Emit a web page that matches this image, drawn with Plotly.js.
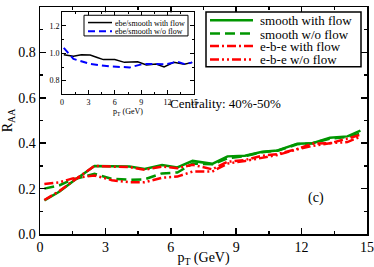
<!DOCTYPE html>
<html><head><meta charset="utf-8">
<script src="https://cdn.plot.ly/plotly-3.0.1.min.js"></script>
<style>html,body{margin:0;padding:0;background:#fff;}#g{width:374px;height:267px;}</style>
</head><body><div id="g"></div>
<script>
var pt = [0.2, 0.9, 1.5, 2.5, 3.3, 4.1, 4.8, 5.6, 6.3, 7.0, 7.9, 8.6, 9.4, 10.2, 10.9, 11.8, 12.5, 13.3, 14.1, 14.7];
var smoothFlow   = [0.148, 0.187, 0.231, 0.300, 0.298, 0.297, 0.286, 0.304, 0.293, 0.322, 0.309, 0.342, 0.345, 0.362, 0.368, 0.398, 0.400, 0.424, 0.430, 0.455];
var smoothNoFlow = [0.200, 0.215, 0.240, 0.265, 0.243, 0.239, 0.241, 0.267, 0.271, 0.310, 0.307, 0.333, 0.343, 0.360, 0.367, 0.395, 0.400, 0.420, 0.428, 0.442];
var ebeFlow      = [0.150, 0.190, 0.232, 0.300, 0.297, 0.295, 0.283, 0.297, 0.290, 0.305, 0.285, 0.318, 0.326, 0.345, 0.352, 0.375, 0.398, 0.400, 0.420, 0.437];
var ebeNoFlow    = [0.220, 0.228, 0.245, 0.258, 0.237, 0.228, 0.228, 0.248, 0.253, 0.275, 0.275, 0.310, 0.322, 0.337, 0.348, 0.373, 0.388, 0.400, 0.405, 0.429];

var ratioFlowX   = [0.2, 1.3, 2.2, 3.2, 4.0, 4.7, 6.0, 7.1, 8.6, 9.6, 10.7, 11.6, 12.7, 13.9, 14.8];
var ratioFlowY   = [0.99, 0.978, 0.99, 0.988, 0.97, 0.954, 0.954, 0.934, 0.939, 0.915, 0.922, 0.90, 0.934, 0.92, 0.934];
var ratioNoFlowX = [0.2, 1.3, 3.2, 5.4, 7.7, 9.2, 10.7, 11.8, 13.1, 14.0, 14.8];
var ratioNoFlowY = [1.04, 0.959, 0.922, 0.905, 0.897, 0.922, 0.922, 0.92, 0.939, 0.92, 0.934];

var mainNames  = ['smooth with flow', 'smooth w/o flow', 'e-b-e with flow', 'e-b-e w/o flow'];
var insetNames = ['ebe/smooth with flow', 'ebe/smooth w/o flow'];
var xTicks = ['0', '3', '6', '9', '12', '15'];
var yTicks = ['0.0', '0.2', '0.4', '0.6', '0.8', '1.0'];
var yInsetTicks = ['0.8', '1.0', '1.2'];

var green = 'rgb(0,150,0)', red = 'rgb(255,0,0)', blue = 'rgb(0,0,255)';
var styles = [
  {color: green, width: 2.5, dash: 'solid'},
  {color: green, width: 2.5, dash: '10px,5px'},
  {color: red, width: 2.5, dash: '9px,3px,2px,3px'},
  {color: red, width: 2.5, dash: '9px,3px,2px,3px,2px,3px'}
];
var insetStyles = [
  {color: 'black', width: 1.5, dash: 'solid'},
  {color: blue, width: 2, dash: '7px,4px'}
];
var mainSeries = [smoothFlow, smoothNoFlow, ebeFlow, ebeNoFlow];
var traces = mainSeries.map(function (s, i) {
  return {x: pt, y: s, name: mainNames[i], mode: 'lines', line: styles[i], showlegend: false};
});
traces.push({x: ratioFlowX, y: ratioFlowY, name: insetNames[0], mode: 'lines', xaxis: 'x2', yaxis: 'y2', line: insetStyles[0], showlegend: false});
traces.push({x: ratioNoFlowX, y: ratioNoFlowY, name: insetNames[1], mode: 'lines', xaxis: 'x2', yaxis: 'y2', line: insetStyles[1], showlegend: false});

function PX(p) { return (p - 40) / 327; }
function PY(p) { return (234.3 - p) / 227.6; }

var serif = '"Liberation Serif", "DejaVu Serif", "Times New Roman", serif';
var shapes = [], annotations = [];
shapes.push({type: 'rect', xref: 'paper', yref: 'paper', x0: PX(206), x1: PX(361), y0: PY(11.7), y1: PY(66.7), line: {color: 'black', width: 1.5}, fillcolor: 'white', layer: 'above'});
var rowsMain = [20, 33.3, 45.9, 59.3];
rowsMain.forEach(function (r, i) {
  shapes.push({type: 'line', xref: 'paper', yref: 'paper', x0: PX(210), x1: PX(253), y0: PY(r), y1: PY(r), line: styles[i], layer: 'above'});
  annotations.push({text: mainNames[i], xref: 'paper', yref: 'paper', x: PX(259), y: PY(r), xanchor: 'left', yanchor: 'middle', showarrow: false, borderpad: 0, height: 12, font: {size: 13, family: serif}});
});
shapes.push({type: 'rect', xref: 'paper', yref: 'paper', x0: PX(84), x1: PX(188), y0: PY(15), y1: PY(35.7), line: {color: 'black', width: 1}, fillcolor: 'white', layer: 'above'});
var rowsInset = [22.3, 30.9];
rowsInset.forEach(function (r, i) {
  shapes.push({type: 'line', xref: 'paper', yref: 'paper', x0: PX(88), x1: PX(112), y0: PY(r), y1: PY(r), line: insetStyles[i], layer: 'above'});
  annotations.push({text: insetNames[i], xref: 'paper', yref: 'paper', x: PX(114), y: PY(r), xanchor: 'left', yanchor: 'middle', showarrow: false, borderpad: 0, height: 8, font: {size: 8, family: serif}});
});
annotations.push({text: 'Centrality: 40%-50%', xref: 'paper', yref: 'paper', x: PX(283), y: PY(103), showarrow: false, font: {size: 13, family: serif}});
annotations.push({text: '(c)', xref: 'paper', yref: 'paper', x: PX(326), y: PY(208), showarrow: false, font: {size: 14, family: serif}});

var ax = {showline: true, mirror: 'ticks', linecolor: 'black', linewidth: 1.5, ticks: 'inside', ticklen: 6, tickwidth: 1.5, tickcolor: 'black', showgrid: false, zeroline: false};
var layout = {
  width: 374, height: 267,
  margin: {l: 40, r: 7, t: 7, b: 33},
  paper_bgcolor: 'white', plot_bgcolor: 'white',
  font: {family: serif, color: 'black'},
  showlegend: false,
  xaxis: Object.assign({}, ax, {range: [0, 15], tickvals: [0,3,6,9,12,15], ticktext: xTicks, tickfont: {size: 14, family: serif},
    minor: {tickvals: [1.5,4.5,7.5,10.5,13.5], ticks: 'inside', ticklen: 3, tickwidth: 1.5, tickcolor: 'black'},
    title: {text: 'p<sub>T</sub> (GeV)', font: {size: 14, family: serif}, standoff: 2}}),
  yaxis: Object.assign({}, ax, {range: [0, 1], tickvals: [0,0.2,0.4,0.6,0.8,1.0], ticktext: yTicks, tickfont: {size: 14, family: serif},
    minor: {tickvals: [0.1,0.3,0.5,0.7,0.9], ticks: 'inside', ticklen: 3, tickwidth: 1.5, tickcolor: 'black'},
    title: {text: 'R<sub>AA</sub>', font: {size: 14, family: serif}, standoff: 4}}),
  xaxis2: Object.assign({}, ax, {anchor: 'y2', domain: [PX(62), PX(194)], range: [0, 15], linewidth: 1, tickwidth: 1, ticklen: 4,
    tickvals: [0,3,6,9,12,15], ticktext: xTicks, tickfont: {size: 8, family: serif},
    minor: {tickvals: [1.5,4.5,7.5,10.5,13.5], ticks: 'inside', ticklen: 2, tickwidth: 1, tickcolor: 'black'},
    title: {text: 'p<sub>T</sub> (GeV)', font: {size: 8, family: serif}, standoff: 0}}),
  yaxis2: Object.assign({}, ax, {anchor: 'x2', domain: [PY(94.3), PY(12)], range: [0.7, 1.3], linewidth: 1, tickwidth: 1, ticklen: 4,
    tickvals: [0.8,1.0,1.2], ticktext: yInsetTicks, tickfont: {size: 8, family: serif},
    minor: {tickvals: [0.9,1.1], ticks: 'inside', ticklen: 2, tickwidth: 1, tickcolor: 'black'}}),
  shapes: shapes,
  annotations: annotations
};
Plotly.newPlot('g', traces, layout, {displayModeBar: false, staticPlot: true});
</script></body></html>
